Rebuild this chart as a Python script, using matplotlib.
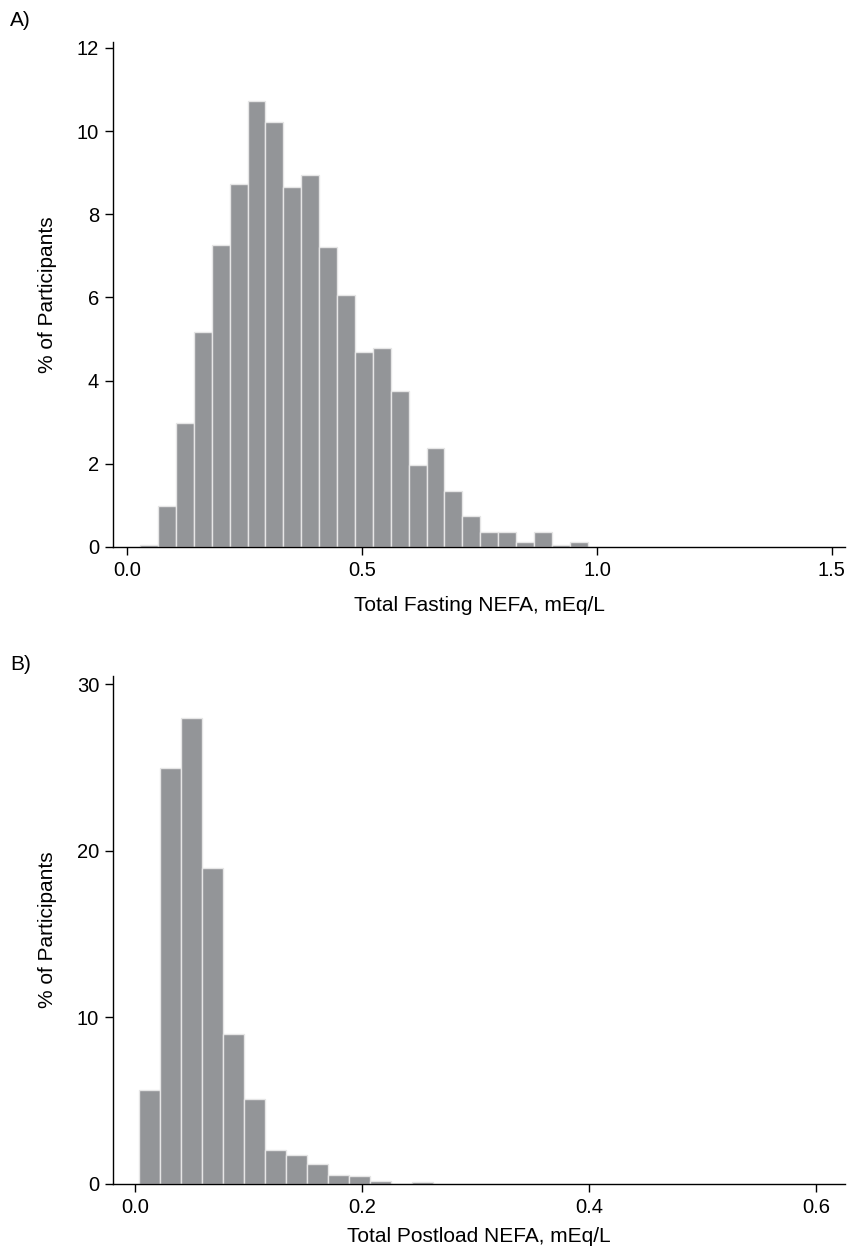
import matplotlib
matplotlib.use('Agg')
import matplotlib.pyplot as plt
import numpy as np

plt.rcParams['font.family'] = ['Liberation Sans', 'DejaVu Sans']
plt.rcParams['font.size'] = 15

# Panel A: total fasting NEFA, % of participants per bin
fasting_pct = [0.05, 0.98, 2.99, 5.16, 7.25, 8.72, 10.73, 10.22, 8.66, 8.94,
               7.21, 6.05, 4.69, 4.78, 3.74, 1.96, 2.38, 1.35, 0.74, 0.37,
               0.37, 0.13, 0.37, 0.05, 0.13]
fasting_start = 0.0277
fasting_width = 0.0381

# Panel B: total postload NEFA
postload_pct = [5.65, 25.0, 28.0, 19.0, 9.0, 5.08, 2.06, 1.74, 1.22, 0.54,
                0.48, 0.18, 0.0, 0.12]
postload_start = 0.0038
postload_width = 0.0185

BAR = '#939598'


def panel(ax, pct, start, width, xlim, ylim, xticks, yticks, xlabel, xpad):
    edges = start + width * np.arange(len(pct))
    ax.bar(edges, pct, width=width, align='edge', color=BAR,
           edgecolor='#e6e6e6', linewidth=1.0)
    ax.set_xlim(*xlim)
    ax.set_ylim(*ylim)
    ax.set_xticks(xticks)
    ax.set_xticklabels([f'{t:.1f}' for t in xticks])
    ax.set_yticks(yticks)
    ax.spines['top'].set_visible(False)
    ax.spines['right'].set_visible(False)
    ax.spines['left'].set_linewidth(1.0)
    ax.spines['bottom'].set_linewidth(1.0)
    ax.tick_params(length=6, width=1.0, direction='out', pad=4,
                   labelsize=14.5)
    ax.set_xlabel(xlabel, labelpad=xpad)
    ax.set_ylabel('% of Participants', labelpad=14)


fig = plt.figure(figsize=(8.48, 12.51), dpi=100)

ax1 = fig.add_axes([0.1333, 0.5628, 0.8632, 0.4039])
panel(ax1, fasting_pct, fasting_start, fasting_width,
      (-0.030, 1.528), (0, 12.15), [0.0, 0.5, 1.0, 1.5],
      [0, 2, 4, 6, 8, 10, 12], 'Total Fasting NEFA, mEq/L', 12)

ax2 = fig.add_axes([0.1333, 0.0536, 0.8632, 0.4060])
panel(ax2, postload_pct, postload_start, postload_width,
      (-0.0194, 0.6256), (0, 30.5), [0.0, 0.2, 0.4, 0.6],
      [0, 10, 20, 30], 'Total Postload NEFA, mEq/L', 7)

fig.text(10 / 848, 1 - 20 / 1251, 'A)', ha='left', va='center')
fig.text(10 / 848, 1 - 665 / 1251, 'B)', ha='left', va='center')

fig.savefig('out.png', dpi=100)
